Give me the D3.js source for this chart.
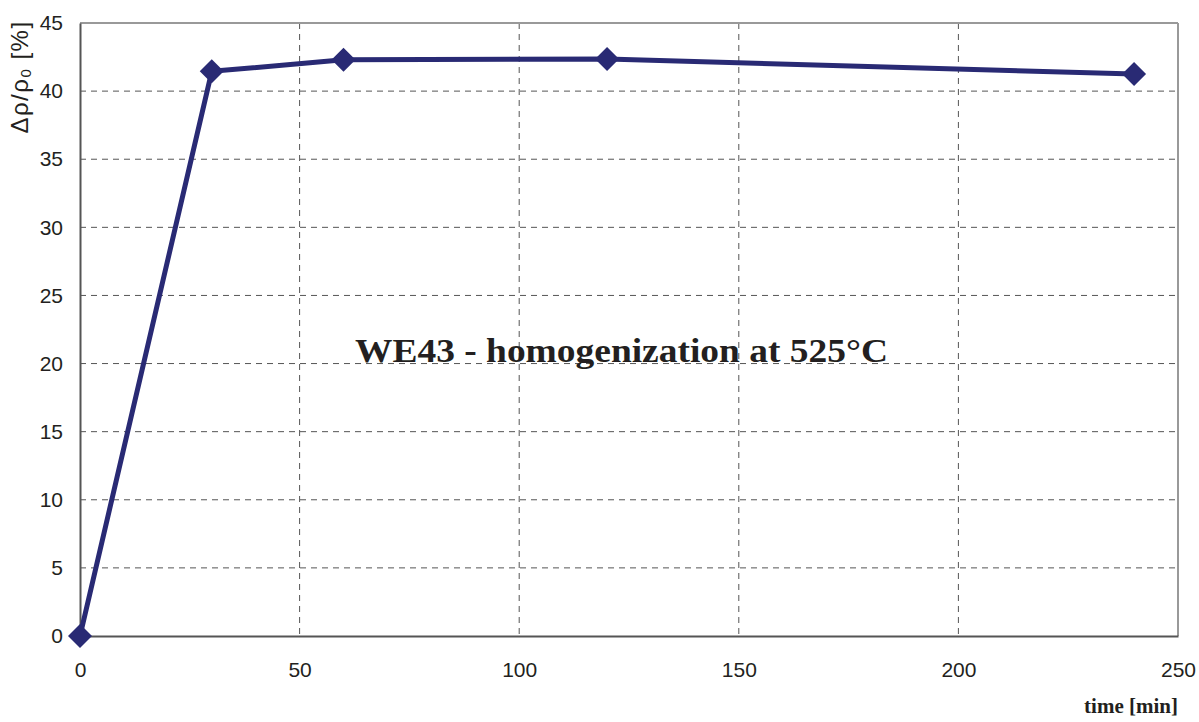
<!DOCTYPE html>
<html><head><meta charset="utf-8">
<script src="https://cdn.jsdelivr.net/npm/d3@7"></script>
<style>body{margin:0;background:#fff}</style>
</head><body>
<svg id="c" width="1199" height="722"></svg>
<script>
const times = [0, 30, 60, 120, 240];
const values = [0, 41.45, 42.3, 42.35, 41.25];
const xTicks = [0, 50, 100, 150, 200, 250];
const yTicks = [0, 5, 10, 15, 20, 25, 30, 35, 40, 45];
const xTitle = "time [min]";
const annotation = "WE43 - homogenization at 525°C";

const svg = d3.select("#c");
const L = 80, R = 1178, T = 23, B = 636;
const x = d3.scaleLinear().domain([0, 250]).range([L, R]);
const y = d3.scaleLinear().domain([0, 45]).range([B, T]);

// grid
const g = svg.append("g");
g.selectAll(".gx").data(xTicks.slice(1, -1)).join("line")
  .attr("x1", d => x(d)).attr("x2", d => x(d)).attr("y1", T).attr("y2", B)
  .attr("stroke", "#555").attr("stroke-width", 1).attr("stroke-dasharray", "6,5");
g.selectAll(".gy").data(yTicks.slice(1, -1)).join("line")
  .attr("y1", d => y(d)).attr("y2", d => y(d)).attr("x1", L).attr("x2", R)
  .attr("stroke", "#555").attr("stroke-width", 1).attr("stroke-dasharray", "6,5");

// frame
svg.append("line").attr("x1", L).attr("x2", R).attr("y1", T).attr("y2", T).attr("stroke", "#999").attr("stroke-width", 2);
svg.append("line").attr("x1", R).attr("x2", R).attr("y1", T).attr("y2", B).attr("stroke", "#999").attr("stroke-width", 2);

// axes
const xa = svg.append("g").attr("transform", `translate(0,${B})`)
  .call(d3.axisBottom(x).tickValues(xTicks).tickSize(0).tickPadding(26));
const ya = svg.append("g").attr("transform", `translate(${L},0)`)
  .call(d3.axisLeft(y).tickValues(yTicks).tickSize(0).tickPadding(17));
[xa, ya].forEach(a => {
  a.select(".domain").attr("stroke", "#555").attr("stroke-width", 2);
  a.selectAll("text").attr("font-family", "Liberation Sans, Arial, sans-serif")
    .attr("font-size", 21).attr("fill", "#231f20");
});

// line
const data = times.map((t, i) => ({t, v: values[i]}));
svg.append("path").datum(data)
  .attr("d", d3.line().x(d => x(d.t)).y(d => y(d.v)))
  .attr("fill", "none").attr("stroke", "#292a74").attr("stroke-width", 5)
  .attr("stroke-linejoin", "round");
svg.selectAll(".m").data(data).join("path")
  .attr("transform", d => `translate(${x(d.t)},${y(d.v)})`)
  .attr("d", "M0,-12L12,0L0,12L-12,0Z")
  .attr("fill", "#292a74");

// titles
svg.append("text").attr("x", 1178).attr("y", 713).attr("text-anchor", "end")
  .attr("font-family", "Liberation Serif, Times New Roman, serif").attr("font-weight", "bold")
  .attr("font-size", 21).attr("fill", "#231f20").text(xTitle);

const yl = svg.append("text").attr("transform", "translate(28,77) rotate(-90)")
  .attr("text-anchor", "middle")
  .attr("font-family", "Liberation Sans, Arial, sans-serif")
  .attr("font-size", 24).attr("letter-spacing", 1.5).attr("fill", "#231f20");
yl.append("tspan").text("Δρ/ρ");
yl.append("tspan").attr("font-size", 15).attr("dy", 3).text("0");
yl.append("tspan").attr("dy", -3).text(" [%]");

svg.append("text").attr("x", 355).attr("y", 362)
  .attr("textLength", 533).attr("lengthAdjust", "spacingAndGlyphs")
  .attr("font-family", "Liberation Serif, Times New Roman, serif").attr("font-weight", "bold")
  .attr("font-size", 34).attr("fill", "#231f20").text(annotation);
</script>
</body></html>
